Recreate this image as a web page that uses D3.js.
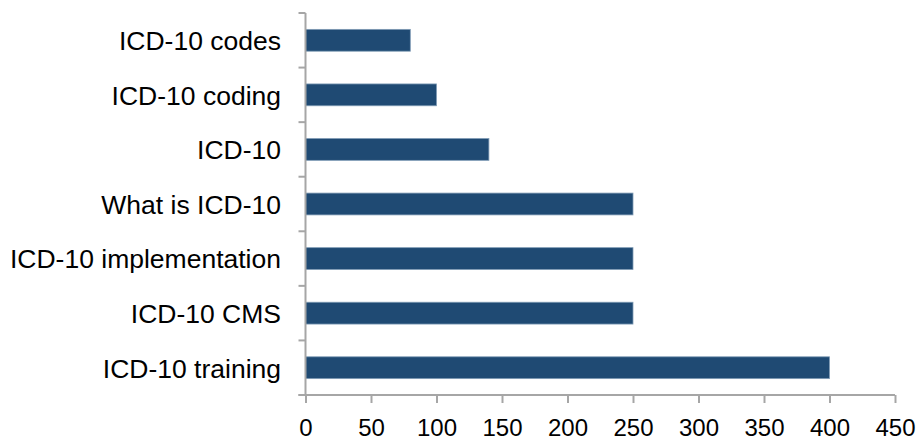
<!DOCTYPE html>
<html>
<head>
<meta charset="utf-8">
<script src="https://cdn.jsdelivr.net/npm/d3@7"></script>
<style>
  body { margin: 0; background: #fff; }
  svg text { font-family: "Liberation Sans", Arial, sans-serif; fill: #000; }
</style>
</head>
<body>
<div id="container"></div>
<script>
/* DATA */
const categories = ["ICD-10 codes", "ICD-10 coding", "ICD-10", "What is ICD-10",
                    "ICD-10 implementation", "ICD-10 CMS", "ICD-10 training"];
const values = [80, 100, 140, 250, 250, 250, 400];
const xTicks = [0, 50, 100, 150, 200, 250, 300, 350, 400, 450];

const width = 918, height = 438;
const margin = {top: 13, bottom: 43, left: 305.5, right: 23};

const svg = d3.select("#container")
  .append("svg")
  .attr("width", width)
  .attr("height", height);

const xScale = d3.scaleLinear()
  .domain([0, 450])
  .range([margin.left, width - margin.right]);

const yScale = d3.scaleBand()
  .domain(categories)
  .range([margin.top, height - margin.bottom])
  .paddingInner(0.6)
  .paddingOuter(0.3);

// bars
svg.selectAll(".bar")
  .data(values)
  .join("rect")
  .attr("class", "bar")
  .attr("x", xScale(0))
  .attr("y", (d, i) => yScale(categories[i]))
  .attr("width", d => xScale(d) - xScale(0))
  .attr("height", yScale.bandwidth())
  .attr("fill", "#1F4A73")
  .attr("stroke", "#7F9BB5")
  .attr("stroke-width", 0.8);

// x axis
const xAxis = d3.axisBottom(xScale)
  .tickValues(xTicks)
  .tickSize(8)
  .tickPadding(16)
  .tickSizeOuter(0);

const xAxisGroup = svg.append("g")
  .attr("transform", `translate(0, ${height - margin.bottom})`)
  .call(xAxis);

xAxisGroup.select(".domain")
  .attr("d", `M${xScale(0) - 7},0H${xScale(450)}`);

xAxisGroup.selectAll("line").attr("stroke", "#A6A6A6").attr("stroke-width", 2);
xAxisGroup.select(".domain").attr("stroke", "#A6A6A6").attr("stroke-width", 2);
xAxisGroup.selectAll("text").style("font-size", "24px").attr("fill", "#000");

// y axis: tick marks at band boundaries
const step = yScale.step();
const bounds = d3.range(categories.length + 1).map(i => margin.top + i * step);

const yAxisGroup = svg.append("g");
yAxisGroup.append("line")
  .attr("x1", xScale(0)).attr("x2", xScale(0))
  .attr("y1", margin.top).attr("y2", height - margin.bottom)
  .attr("stroke", "#A6A6A6").attr("stroke-width", 2);

yAxisGroup.selectAll(".ytick")
  .data(bounds)
  .join("line")
  .attr("class", "ytick")
  .attr("x1", xScale(0) - 7).attr("x2", xScale(0))
  .attr("y1", d => d).attr("y2", d => d)
  .attr("stroke", "#A6A6A6").attr("stroke-width", 2);

yAxisGroup.selectAll(".ylabel")
  .data(categories)
  .join("text")
  .attr("class", "ylabel")
  .attr("x", xScale(0) - 24.5)
  .attr("y", d => yScale(d) + yScale.bandwidth() / 2)
  .attr("dy", "0.37em")
  .attr("text-anchor", "end")
  .style("font-size", "26.5px")
  .text(d => d);
</script>
</body>
</html>
